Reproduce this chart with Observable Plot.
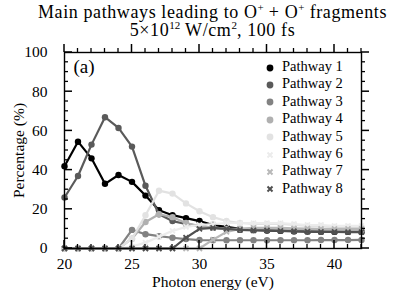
<!DOCTYPE html>
<html><head><meta charset="utf-8">
<script src="https://cdn.jsdelivr.net/npm/d3@7"></script>
<script src="https://cdn.jsdelivr.net/npm/@observablehq/plot@0.6"></script>
<style>
html,body{margin:0;padding:0;background:#fff;}
#wrap{position:relative;width:399px;height:299px;font-family:"Liberation Serif",serif;color:#000;overflow:hidden;}
#title{height:40px;box-sizing:border-box;padding-top:3px;margin-left:26px;text-align:center;font-size:18px;line-height:18px;letter-spacing:0.6px;}
#title sup{font-size:11px;line-height:0;vertical-align:7px;letter-spacing:0;}
#chart svg{font-family:"Liberation Serif",serif;font-size:15px;}
#legend{position:absolute;left:264px;top:58px;font-size:14.5px;line-height:17.4px;}
#legend div{display:flex;align-items:center;height:17.4px;}
#legend span.m{display:inline-block;width:12px;height:12px;margin-right:6px;}
</style></head>
<body><div id="wrap">
<div id="title">Main pathways leading to O<sup>+</sup> + O<sup>+</sup> fragments<br>5×10<sup>12</sup> W/cm<sup>2</sup>, 100 fs</div>
<div id="chart"></div>
<div id="legend"></div>
</div>
<script>
const energy = [20,21,22,23,24,25,26,27,28,29,30,31,32,33,34,35,36,37,38,39,40,41,42];
const pathwayNames = ["Pathway 1","Pathway 2","Pathway 3","Pathway 4","Pathway 5","Pathway 6","Pathway 7","Pathway 8"];
const pathway1 = [42, 54.5, 46, 33, 37.5, 34, 27, 19.5, 17, 15.5, 14, 12, 11, 10, 9.5, 9.2, 9, 8.8, 8.7, 8.6, 8.5, 8.5, 8.5];
const pathway2 = [26, 37, 53, 67, 61.5, 52, 32, 17.5, 14, 12.5, 11.5, 10.5, 10, 9.5, 9.3, 9.3, 9.2, 8.8, 8.8, 8.7, 8.7, 8.6, 8.6];
const pathway3 = [0, 0, 0, 0, 0, 9.5, 7.3, 6.3, 5.5, 4.8, 4.3, 4.2, 4.2, 4.2, 4.2, 4.2, 4.2, 4.2, 4.2, 4.3, 4.3, 4.3, 4.4];
const pathway4 = [0, 0, 0, 0, 0, 5, 13.5, 17.5, 16, 13, 11.5, 10.5, 10, 10, 10, 10, 10, 9.8, 9.7, 9.6, 9.5, 9.5, 9.5];
const pathway5 = [0, 0, 0, 0, 0, 5, 17, 29.5, 28, 23, 19, 16, 14, 13, 12.5, 12.5, 12.5, 12, 11.5, 11.5, 11, 11, 11];
const pathway6 = [0, 0, 0, 0, 0, 1, 3, 6, 9, 11, 12, 12.5, 13, 13, 13, 13, 13, 12.5, 12, 12, 11.5, 11.5, 11.5];
const pathway7 = [0, 0, 0, 0, 0, 0, 0, 0, 0, 0, 0, 4.5, 8.5, 10, 10.5, 10.5, 10.5, 10.3, 10.2, 10, 10, 10, 10];
const pathway8 = [0, 0, 0, 0, 0, 0, 0, 0, 0, 5.5, 10, 10.5, 10, 9.5, 9.3, 9.2, 9, 8.8, 8.6, 8.5, 8.5, 8.4, 8.4];
const xMajorTicks = [20, 25, 30, 35, 40];
const xMinorTicks = [21,22,23,24,26,27,28,29,31,32,33,34,36,37,38,39,41,42];
const yMajorTicks = [0, 20, 40, 60, 80, 100];
const yMinorTicks = [5,10,15,25,30,35,45,50,55,65,70,75,85,90,95];

const seriesValues = [pathway1,pathway2,pathway3,pathway4,pathway5,pathway6,pathway7,pathway8];
const colors = ["#000000","#5a5a5a","#828282","#b0b0b0","#e2e2e2","#ececec","#b8b8b8","#505050"];
const symbols = ["circle","circle","circle","circle","circle","times","times","times"];

const rows = [];
seriesValues.forEach((vals, i) => vals.forEach((v, j) => rows.push({pathway: pathwayNames[i], idx: i, energy: energy[j], pct: v})));

const seriesMarks = [];
seriesValues.forEach((vals, i) => {
  const d = rows.filter(r => r.idx === i);
  seriesMarks.push(Plot.line(d, {x: "energy", y: "pct", stroke: colors[i], strokeWidth: 2.2}));
  if (symbols[i] === "circle") {
    seriesMarks.push(Plot.dot(d, {x: "energy", y: "pct", fill: colors[i], r: 3.2, stroke: "none"}));
  } else {
    seriesMarks.push(Plot.dot(d, {x: "energy", y: "pct", stroke: colors[i], symbol: "times", r: 2.4, strokeWidth: 1.8}));
  }
});

const xDom = [20, 42], yDom = [0, 100];

const chart = Plot.plot({
  width: 399, height: 259,
  marginTop: 12, marginBottom: 51, marginLeft: 64, marginRight: 38,
  x: {domain: xDom},
  y: {domain: yDom},
  marks: [
    ...seriesMarks,
    Plot.frame({stroke: "#000", strokeWidth: 1.4}),
    Plot.axisX({anchor: "bottom", ticks: xMajorTicks, tickSize: 0, tickPadding: 9, label: "Photon energy (eV)", labelAnchor: "center", labelArrow: "none", labelOffset: 38, fontSize: 15.5}),
    Plot.axisY({anchor: "left", ticks: yMajorTicks, tickSize: 0, tickPadding: 17, label: "Percentage (%)", labelAnchor: "center", labelArrow: "none", labelOffset: 52, fontSize: 15.5}),
    Plot.text(["(a)"], {frameAnchor: "top-left", dx: 9, dy: 7, fontSize: 19, textAnchor: "start", lineAnchor: "top"})
  ]
});
document.getElementById("chart").appendChild(chart);

// Tick marks placed through Plot's own x and y scales
const svgEl = chart.tagName.toLowerCase() === "svg" ? chart : chart.querySelector("svg");
const sx = chart.scale("x"), sy = chart.scale("y");
const X = sx.apply ? (v => sx.apply(v)) : d3.scaleLinear(sx.domain, sx.range);
const Y = sy.apply ? (v => sy.apply(v)) : d3.scaleLinear(sy.domain, sy.range);
const g = d3.select(svgEl).append("g").attr("stroke", "#000").attr("fill", "none");
const xTicks = (vals, yv, len, sw) => vals.forEach(v =>
  g.append("line").attr("x1", X(v)).attr("x2", X(v)).attr("y1", Y(yv)).attr("y2", Y(yv) - len).attr("stroke-width", sw));
const yTicks = (vals, xv, len, sw) => vals.forEach(v =>
  g.append("line").attr("x1", X(xv)).attr("x2", X(xv) + len).attr("y1", Y(v)).attr("y2", Y(v)).attr("stroke-width", sw));
xTicks(xMajorTicks, yDom[0], 8, 1.5);   // bottom, inward
xTicks(xMinorTicks, yDom[0], 4, 1.3);
xTicks(xMajorTicks, yDom[1], 8, 1.5);   // top, outward
xTicks(xMinorTicks, yDom[1], 4, 1.3);
yTicks(yMajorTicks, xDom[0], 8, 1.5);   // left, inward
yTicks(yMinorTicks, xDom[0], 4, 1.3);
yTicks(yMajorTicks, xDom[1], 8, 1.5);   // right, outward
yTicks(yMinorTicks, xDom[1], 4, 1.3);

const legend = d3.select("#legend");
pathwayNames.forEach((name, i) => {
  const row = legend.append("div");
  const s = row.append("span").attr("class", "m").append("svg").attr("width", 12).attr("height", 12);
  if (symbols[i] === "circle") {
    s.append("circle").attr("cx", 6).attr("cy", 6).attr("r", 3.4).attr("fill", colors[i]);
  } else {
    s.append("path").attr("d", "M3.5,3.5L8.5,8.5M8.5,3.5L3.5,8.5").attr("stroke", colors[i]).attr("stroke-width", 2);
  }
  row.append("span").text(name);
});
</script>
</body></html>
